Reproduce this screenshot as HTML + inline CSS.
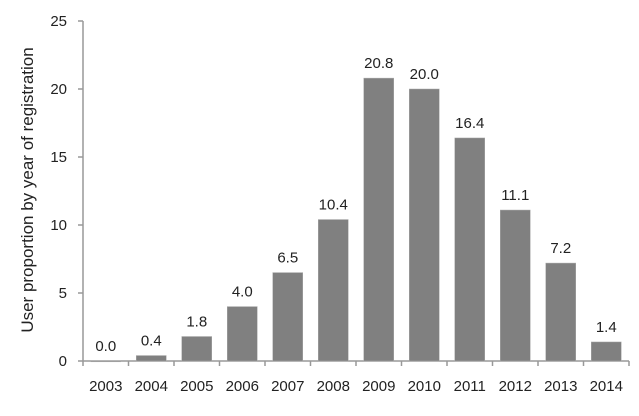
<!DOCTYPE html>
<html><head><meta charset="utf-8"><style>
html,body{margin:0;padding:0;background:#fff;}
svg text{font-family:"Liberation Sans",sans-serif;fill:#222;}
</style></head><body>
<svg id="chart" width="639" height="411" viewBox="0 0 639 411" xmlns="http://www.w3.org/2000/svg">
<text transform="translate(33,190) rotate(-90)" text-anchor="middle" font-size="17">User proportion by year of registration</text>
<g id="axes"></g>
<g id="bars"></g>
</svg>
<script>
const categories = ["2003","2004","2005","2006","2007","2008","2009","2010","2011","2012","2013","2014"];
const values = [0.0,0.4,1.8,4.0,6.5,10.4,20.8,20.0,16.4,11.1,7.2,1.4];
const valueLabels = ["0.0","0.4","1.8","4.0","6.5","10.4","20.8","20.0","16.4","11.1","7.2","1.4"];
const yTicks = [0,5,10,15,20,25];

const NS="http://www.w3.org/2000/svg";
const x0=83, step=45.5, y0=361, unit=13.6, barW=30;
const xBand=i=>x0+step*i;
const y=v=>y0-v*unit;
function mk(tag,attrs,parent){const e=document.createElementNS(NS,tag);for(const k in attrs)e.setAttribute(k,attrs[k]);parent.appendChild(e);return e;}
const axes=document.getElementById('axes'), bars=document.getElementById('bars');

let yl=mk('line',{x1:x0,y1:y(25),x2:x0,y2:y0,stroke:'#999','stroke-width':1.5},axes);


let xl=mk('line',{x1:x0,y1:y0,x2:xBand(categories.length),y2:y0,stroke:'#999','stroke-width':1.5},axes);



yTicks.forEach(t=>{
  const tk=mk('line',{x1:x0-5,y1:y(t),x2:x0,y2:y(t),stroke:'#999','stroke-width':1.5},axes);
  
  
  const tl=mk('text',{x:67,y:y(t)+5,'text-anchor':'end','font-size':15},axes);
  tl.textContent=t;
  
  
});
for(let i=0;i<=categories.length;i++){
  const tk=mk('line',{x1:xBand(i),y1:y0,x2:xBand(i),y2:y0+5,stroke:'#999','stroke-width':1.5},axes);
  
  
}
categories.forEach((c,i)=>{
  const cx=xBand(i)+step/2;
  const tl=mk('text',{x:cx,y:391,'text-anchor':'middle','font-size':15},axes);
  tl.textContent=c;
  
  
  const b=mk('rect',{x:cx-barW/2,y:y(values[i]),width:barW,height:Math.max(values[i]*unit,0.8),fill:'#808080',stroke:'#aaa','stroke-width':0.5},bars);
  
  
  const vl=mk('text',{x:cx,y:y(values[i])-10,'text-anchor':'middle','font-size':15},bars);
  vl.textContent=valueLabels[i];
  
  
});
</script>
</body></html>
